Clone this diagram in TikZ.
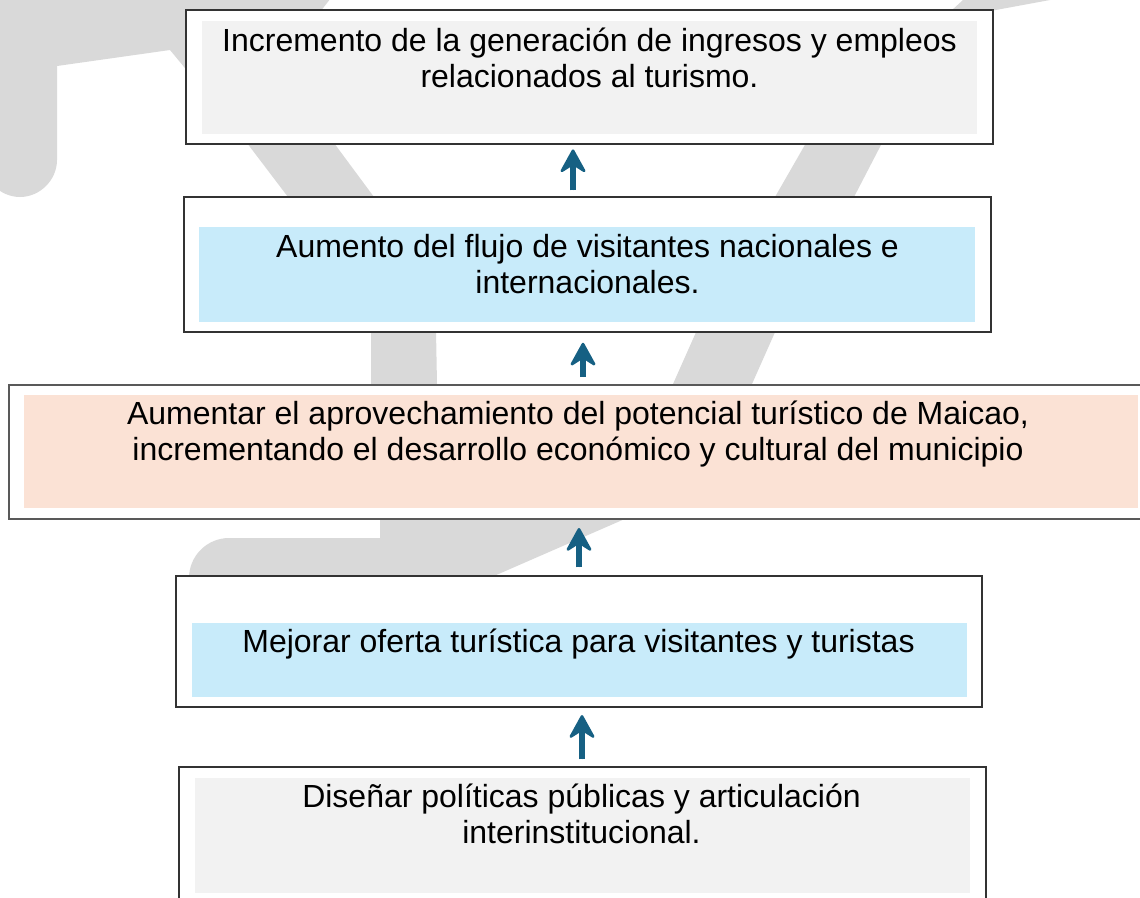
\documentclass[tikz,border=0pt]{standalone}
\usepackage{fontspec}
\setmainfont{Liberation Sans}
\usetikzlibrary{arrows.meta,fit,calc}
\definecolor{wm}{HTML}{D9D9D9}
\definecolor{innergray}{HTML}{F2F2F2}
\definecolor{innerblue}{HTML}{C8EBFA}
\definecolor{innerpeach}{HTML}{FBE2D5}
\definecolor{arrowblue}{HTML}{166083}
\tikzset{
  outerbox/.style={draw=black!80, line width=1.1pt, fill=white, inner sep=0pt},
  txt/.style={anchor=base, inner sep=0pt, font=\fontsize{24}{27.6}\selectfont},
  arrowhd/.tip={Stealth[length=20pt,width=22pt,inset=7pt,round,line width=2pt]},
  arr/.style={draw=arrowblue, fill=arrowblue, line width=4.5pt, -arrowhd}
}
\begin{document}
\begin{tikzpicture}[x=0.75pt,y=-0.75pt]
\useasboundingbox (0,0) rectangle (1140,897);

% watermark
\begin{scope}
\clip (0,0) rectangle (1140,897);
\fill[wm] (-40,-20) -- (345,-20) -- (320,12) -- (334,143) -- (374,197)
  -- (436,330) -- (437,384) -- (449,518) -- (627,518) -- (494,576)
  -- (470,650) -- (189,650) -- (189,578)
  .. controls (189,556) and (207,538) .. (229,538) -- (380,538) -- (380,518)
  -- (371,384) -- (371,330) -- (288,197) -- (247,143) -- (170,50) -- (57,66)
  -- (57,160) .. controls (57,180) and (40,197) .. (20,197)
  .. controls (0,197) and (-17,180) .. (-17,160) -- (-40,160) -- cycle;
\fill[wm] (955,-20) -- (1080,-20) -- (1050,0) -- (985,12) -- (882,143) -- (854,197)
  -- (776,330) -- (752,384) -- (640,470) -- (560,470) -- (673,384)
  -- (697,330) -- (775,197) -- (806,143) -- (963,0) -- cycle;
\end{scope}

% boxes
\node[outerbox, fit={(186,10) (993,144)}] (b1) {};
\fill[innergray] (202,21) rectangle (977,134);
\node[txt] (t1) at (589.5,51) {\begin{tabular}[t]{@{}c@{}}Incremento de la generación de ingresos y empleos\\relacionados al turismo.\end{tabular}};

\node[outerbox, fit={(184,197) (991,332)}] (b2) {};
\fill[innerblue] (199,227) rectangle (975,322);
\node[txt] (t2) at (587.5,257) {\begin{tabular}[t]{@{}c@{}}Aumento del flujo de visitantes nacionales e\\internacionales.\end{tabular}};

\node[outerbox, draw=black!65, line width=1.5pt, fit={(9,385) (1160,519)}] (b3) {};
\fill[innerpeach] (24,395) rectangle (1138,508);
\node[txt] (t3) at (578,424) {\begin{tabular}[t]{@{}c@{}}Aumentar el aprovechamiento del potencial turístico de Maicao,\\incrementando el desarrollo económico y cultural del municipio\end{tabular}};

\node[outerbox, fit={(176,576) (982,707)}] (b4) {};
\fill[innerblue] (192,623) rectangle (967,697);
\node[txt] (t4) at (578.5,652) {Mejorar oferta turística para visitantes y turistas};

\node[outerbox, fit={(179,767) (986,910)}] (b5) {};
\fill[innergray] (195,778) rectangle (970,893);
\node[txt] (t5) at (581.5,807) {\begin{tabular}[t]{@{}c@{}}Diseñar políticas públicas y articulación\\interinstitucional.\end{tabular}};

% arrows
\draw[arr, shorten <=4.5pt, shorten >=3.5pt] ($(b2.north)+(-14.5,0)$) -- ($(b1.south)+(-16.5,0)$);
\draw[arr, shorten <=5.25pt, shorten >=7.5pt] ($(b3.north)+(-1.5,0)$) -- ($(b2.south)+(-4.5,0)$);
\draw[arr, shorten <=6pt, shorten >=6pt] ($(b4.north)+(0,0)$) -- ($(b3.south)+(-5.5,0)$);
\draw[arr, shorten <=5.25pt, shorten >=5.5pt] ($(b5.north)+(-0.5,0)$) -- ($(b4.south)+(3,0)$);
\end{tikzpicture}
\end{document}
